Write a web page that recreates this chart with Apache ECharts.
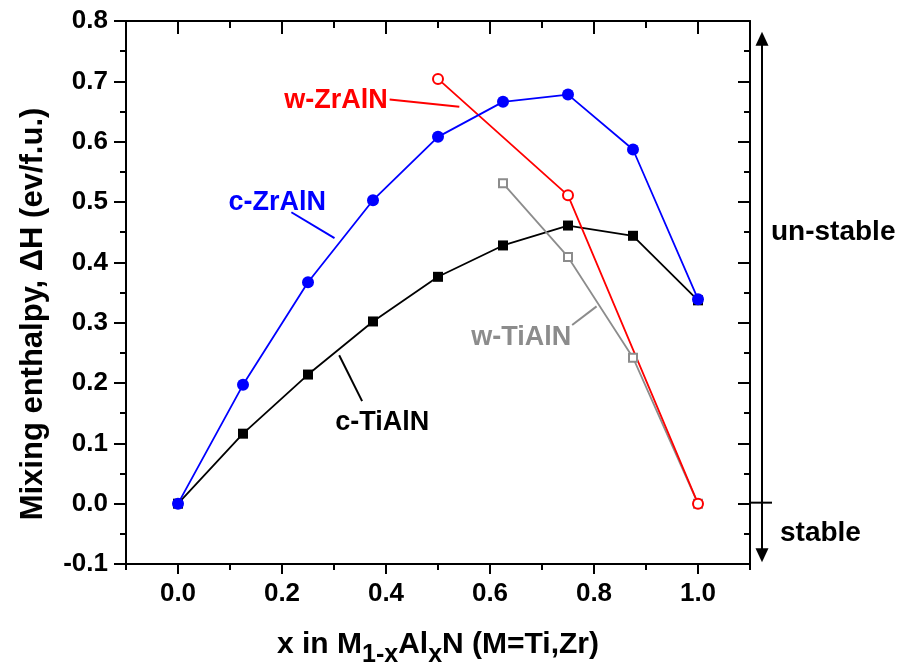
<!DOCTYPE html>
<html>
<head>
<meta charset="utf-8">
<title>Mixing enthalpy</title>
<script src="https://cdn.jsdelivr.net/npm/echarts@6/dist/echarts.min.js"></script>
<style>
  html, body { margin: 0; padding: 0; background: #fff; }
  #main { width: 900px; height: 668px; }
</style>
</head>
<body>
<div id="main"></div>
<script>
// composition x in M(1-x)Al(x)N
const xValues = [0, 0.125, 0.25, 0.375, 0.5, 0.625, 0.75, 0.875, 1.0]
const cTiAlN = [0, 0.116, 0.214, 0.302, 0.376, 0.428, 0.461, 0.444, 0.337]
const cZrAlN = [0, 0.197, 0.367, 0.503, 0.608, 0.666, 0.678, 0.587, 0.339]
const wZrAlNx = [0.5, 0.75, 1.0]
const wZrAlN = [0.704, 0.511, 0]
const wTiAlNx = [0.625, 0.75, 0.875, 1.0]
const wTiAlN = [0.531, 0.409, 0.242, 0]

// labelled x ticks
const xTickLabels = ['0.0', '0.2', '0.4', '0.6', '0.8', '1.0']

const font = '"Liberation Sans", Arial, sans-serif'
const pairs = (xs, ys) => xs.map((x, i) => [x, ys[i]])
const tickLine = { color: '#000', width: 2 }
const frameLine = { show: true, onZero: false, lineStyle: { color: '#000', width: 2 } }

// x frame axes: ticks every 0.2 from -0.1 (odd tenths, short),
// the even tenths come out as longer minor ticks
const xFrame = (position, inside, major, minor) => ({
  type: 'value',
  position,
  min: -0.1,
  max: 1.1,
  interval: 0.2,
  splitLine: { show: false },
  axisLine: frameLine,
  axisTick: { show: true, inside, length: major, lineStyle: tickLine },
  minorTick: { show: true, splitNumber: 2, length: minor, lineStyle: tickLine },
  axisLabel: { show: false }
})

const option = {
  backgroundColor: '#ffffff',
  animation: false,
  grid: { left: 126, right: 150, top: 21, bottom: 104, outerBoundsMode: 'none' },
  xAxis: [
    xFrame('bottom', false, 6, 10),
    xFrame('top', true, 7, 13),
    {
      // tick labels and title only
      type: 'value',
      position: 'bottom',
      min: -0.1,
      max: 1.1,
      interval: 0.1,
      splitLine: { show: false },
      axisLine: { show: false, onZero: false },
      axisTick: { show: false },
      axisLabel: {
        margin: 17,
        color: '#000',
        fontSize: 26,
        fontWeight: 'bold',
        fontFamily: font,
        formatter: (v) => {
          const s = v.toFixed(1)
          return xTickLabels.includes(s) ? s : ''
        }
      },
      name: '{m|x in M}{s|1-x}{m|Al}{s|x}{m|N (M=Ti,Zr)}',
      nameLocation: 'middle',
      nameGap: 58,
      nameTextStyle: {
        color: '#000',
        fontSize: 30,
        fontWeight: 'bold',
        fontFamily: font,
        rich: {
          m: { color: '#000', fontSize: 30, fontWeight: 'bold', fontFamily: font, lineHeight: 46, verticalAlign: 'middle' },
          s: { color: '#000', fontSize: 25, fontWeight: 'bold', fontFamily: font, lineHeight: 25, verticalAlign: 'bottom' }
        }
      }
    }
  ],
  yAxis: [
    {
      type: 'value',
      min: -0.1,
      max: 0.8,
      interval: 0.1,
      position: 'left',
      splitLine: { show: false },
      axisLine: frameLine,
      axisTick: { show: true, length: 12, lineStyle: tickLine },
      minorTick: { show: true, splitNumber: 2, length: 6, lineStyle: tickLine },
      axisLabel: {
        margin: 18,
        color: '#000',
        fontSize: 26,
        fontWeight: 'bold',
        fontFamily: font,
        formatter: (v) => v.toFixed(1)
      }
    },
    {
      type: 'value',
      min: -0.1,
      max: 0.8,
      interval: 0.1,
      position: 'right',
      splitLine: { show: false },
      axisLine: frameLine,
      axisTick: { show: true, inside: true, length: 12, lineStyle: tickLine },
      minorTick: { show: true, splitNumber: 2, length: 6, lineStyle: tickLine },
      axisLabel: { show: false }
    }
  ],
  series: [
    {
      name: 'c-TiAlN',
      type: 'line',
      data: pairs(xValues, cTiAlN),
      symbol: 'rect',
      symbolSize: 10,
      lineStyle: { color: '#000', width: 1.8 },
      itemStyle: { color: '#000' }
    },
    {
      name: 'w-TiAlN',
      type: 'line',
      data: pairs(wTiAlNx, wTiAlN),
      symbol: 'rect',
      symbolSize: 8,
      lineStyle: { color: '#8c8c8c', width: 1.8 },
      itemStyle: { color: '#fff', borderColor: '#8c8c8c', borderWidth: 2 }
    },
    {
      name: 'w-ZrAlN',
      type: 'line',
      data: pairs(wZrAlNx, wZrAlN),
      symbol: 'circle',
      symbolSize: 10,
      lineStyle: { color: '#ff0000', width: 1.8 },
      itemStyle: { color: '#fff', borderColor: '#ff0000', borderWidth: 2 }
    },
    {
      name: 'c-ZrAlN',
      type: 'line',
      data: pairs(xValues, cZrAlN),
      symbol: 'circle',
      symbolSize: 12,
      lineStyle: { color: '#0000ff', width: 1.8 },
      itemStyle: { color: '#0000ff' }
    }
  ]
}

const chart = echarts.init(document.getElementById('main'))
chart.setOption(option)

// annotations, placed in data coordinates
const px = (x, y) => chart.convertToPixel({ xAxisIndex: 0, yAxisIndex: 0 }, [x, y])

const label = (text, color, x, y) => {
  const p = px(x, y)
  return {
    type: 'text',
    x: p[0],
    y: p[1],
    style: { text, fill: color, fontSize: 27, fontWeight: 'bold', fontFamily: font, align: 'center', verticalAlign: 'middle' }
  }
}
const leader = (color, x1, y1, x2, y2) => {
  const a = px(x1, y1)
  const b = px(x2, y2)
  return {
    type: 'line',
    shape: { x1: a[0], y1: a[1], x2: b[0], y2: b[1] },
    style: { stroke: color, lineWidth: 2 }
  }
}

const right = px(1.1, 0)[0]
const arrowX = right + 12
const topTip = px(0, 0.782)[1]
const bottomTip = px(0, -0.097)[1]
const zeroY = px(0, 0)[1]

const graphics = [
  label('w-ZrAlN', '#ff0000', 0.304, 0.668),
  leader('#ff0000', 0.407, 0.670, 0.541, 0.658),
  label('c-ZrAlN', '#0000ff', 0.191, 0.499),
  leader('#0000ff', 0.218, 0.483, 0.301, 0.440),
  label('c-TiAlN', '#000000', 0.393, 0.135),
  leader('#000000', 0.310, 0.246, 0.354, 0.170),
  label('w-TiAlN', '#8c8c8c', 0.660, 0.276),
  leader('#8c8c8c', 0.758, 0.296, 0.805, 0.327),
  // stability arrow on the right
  {
    type: 'line',
    shape: { x1: arrowX, y1: topTip + 10, x2: arrowX, y2: bottomTip - 10 },
    style: { stroke: '#000', lineWidth: 2 }
  },
  {
    type: 'polygon',
    shape: { points: [[arrowX, topTip], [arrowX - 6.5, topTip + 14], [arrowX + 6.5, topTip + 14]] },
    style: { fill: '#000' }
  },
  {
    type: 'polygon',
    shape: { points: [[arrowX, bottomTip], [arrowX - 6.5, bottomTip - 14], [arrowX + 6.5, bottomTip - 14]] },
    style: { fill: '#000' }
  },
  {
    type: 'line',
    shape: { x1: right - 1, y1: zeroY - 1, x2: right + 22, y2: zeroY - 1 },
    style: { stroke: '#000', lineWidth: 2 }
  },
  {
    type: 'text',
    x: right + 21,
    y: px(0, 0.45)[1],
    style: { text: 'un-stable', fill: '#000', fontSize: 28, fontWeight: 'bold', fontFamily: font, align: 'left', verticalAlign: 'middle' }
  },
  {
    type: 'text',
    x: right + 30,
    y: px(0, -0.049)[1],
    style: { text: 'stable', fill: '#000', fontSize: 28, fontWeight: 'bold', fontFamily: font, align: 'left', verticalAlign: 'middle' }
  },
  // y axis title
  {
    type: 'text',
    x: 33,
    y: 314,
    rotation: Math.PI / 2,
    style: { text: 'Mixing enthalpy, \u0394H (ev/f.u.)', fill: '#000', fontSize: 31, fontWeight: 'bold', fontFamily: font, align: 'center', verticalAlign: 'middle' }
  }
]

chart.setOption({ graphic: graphics })
</script>
</body>
</html>
